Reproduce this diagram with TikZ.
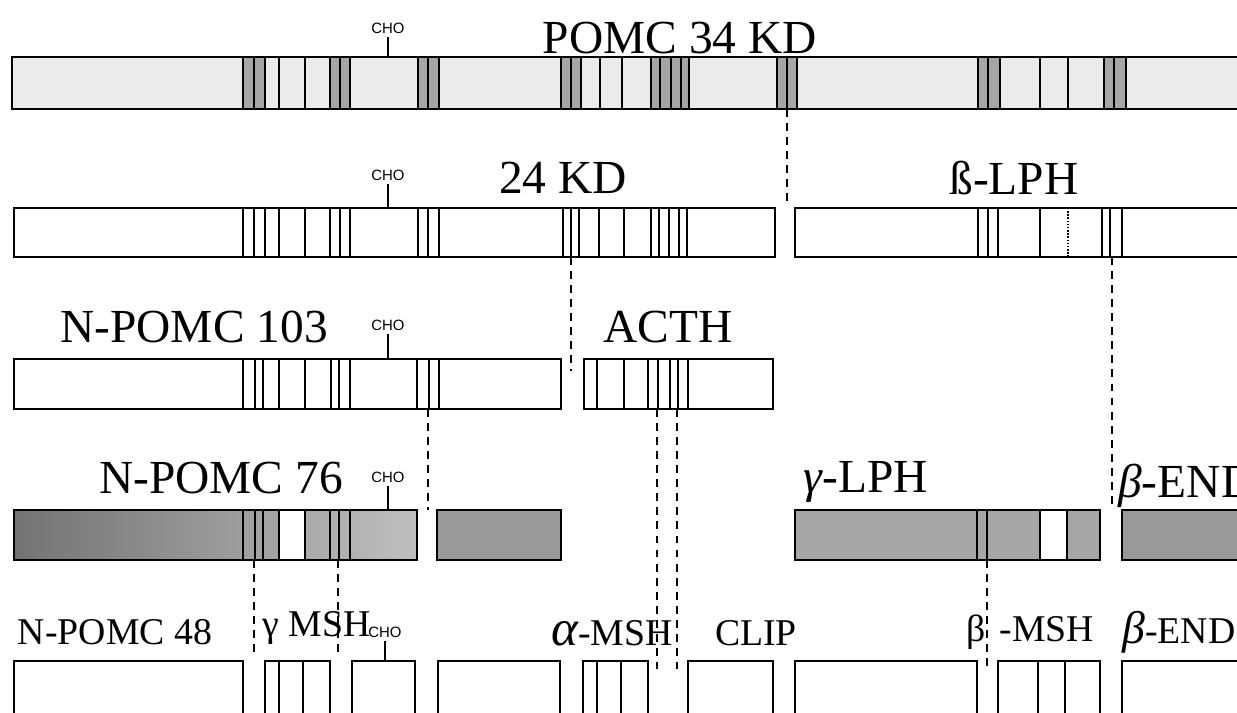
\documentclass[tikz,border=0pt]{standalone}
\usepackage{fontspec}
\setmainfont{Liberation Serif}
\newfontfamily\chofont{Liberation Sans}
\usetikzlibrary{fit,calc}
\tikzset{
    segment/.style={draw, line width=1.1pt, inner sep=0pt, outer sep=0pt},
    light/.style={segment, fill=black!8},
    plain/.style={segment, fill=white},
    dense/.style={segment, fill=black!40},
    band/.style={fill=black!35},
    site/.style={line width=0.8pt},
    cleave/.style={line width=0.8pt, dash pattern=on 4.5pt off 3.5pt},
    bigname/.style={font=\fontsize{27}{29}\selectfont, inner sep=0pt},
    smallname/.style={font=\fontsize{21.5}{24}\selectfont, inner sep=0pt},
    cho/.style={font=\chofont\fontsize{8.5}{9}\selectfont, inner sep=0pt},
    glycan/.style={line width=0.8pt, shorten <=2pt}
}
\newcommand{\sites}[2]{\foreach \x in {#2} {\draw[site] (\x,0 |- #1.north) -- (\x,0 |- #1.south);}}
\newcommand{\bands}[3]{\foreach \a/\b in {#2} {\fill[#3] ($(\a,0 |- #1.north)+(0,1)$) rectangle ($(\b,0 |- #1.south)-(0,1)$);}}

\begin{document}
\begin{tikzpicture}[x=0.02cm, y=-0.02cm]
    \useasboundingbox (0,0) rectangle (1237,713);
    \clip (0,0) rectangle (1237,713);

    % precursor
    \node[light, fit={(12,57) (1260,109)}] (pomc) {};
    \bands{pomc}{243/265, 330/350, 418/439, 561/581, 651/689, 777/797, 978/1000, 1104/1126}{band}
    \sites{pomc}{243,254,265,279,305,330,340,350,418,428,439,561,571,581,600,622,651,660,671,681,689,777,787,797,978,988,1000,1040,1068,1104,1114,1126}
    \node[bigname] (pomcname) at (680,38) {POMC 34 KD};
    \node[cho] (cho1) at (388,28) {CHO};
    \draw[glycan] (cho1.south) -- (cho1.south |- pomc.north);

    % first cleavage
    \node[plain, fit={(14,208) (775,257)}] (kd24) {};
    \sites{kd24}{243,254,265,279,305,330,340,350,418,428,439,563,571,579,599,624,651,659,669,679,687}
    \node[plain, fit={(795,208) (1260,257)}] (blph) {};
    \sites{blph}{978,988,998,1040,1102,1110,1122}
    \draw[site, densely dotted] (1068,0 |- blph.north) -- (1068,0 |- blph.south);
    \node[bigname] (kd24name) at (563,178) {24 KD};
    \node[bigname] (blphname) at (1014,178) {ß-LPH};
    \node[cho] (cho2) at (388,175) {CHO};
    \draw[glycan] (cho2.south) -- (cho2.south |- kd24.north);

    % second cleavage
    \node[plain, fit={(14,359) (561,409)}] (np103) {};
    \sites{np103}{243,255,263,279,305,331,339,350,417,429,439}
    \node[plain, fit={(584,359) (773,409)}] (acth) {};
    \sites{acth}{597,624,648,658,670,678,688}
    \node[bigname] (np103name) at (194,327) {N-POMC 103};
    \node[bigname] (acthname) at (668,327) {ACTH};
    \node[cho] (cho3) at (388,325) {CHO};
    \draw[glycan] (cho3.south) -- (cho3.south |- np103.north);

    % third cleavage
    \node[segment, left color=black!55, right color=black!25, fit={(14,510) (417,560)}] (np76) {};
    \bands{np76}{279/305}{white}
    \sites{np76}{243,255,263,279,305,330,339,350}
    \node[dense, fit={(437,510) (561,560)}] (jpep) {};
    \node[segment, fill=black!35, fit={(795,510) (1100,560)}] (glph) {};
    \bands{glph}{1040/1067}{white}
    \sites{glph}{977,987,1040,1067}
    \node[dense, fit={(1122,510) (1260,560)}] (bend) {};
    \node[bigname] (np76name) at (221,478) {N-POMC 76};
    \node[bigname] (glphname) at (866,482) {\itshape γ\upshape-LPH};
    \node[bigname, anchor=west] (bendname) at (1118,486) {\itshape β\upshape-END};
    \node[cho] (cho4) at (388,477) {CHO};
    \draw[glycan] (cho4.south) -- (cho4.south |- np76.north);

    % end products
    \node[plain, fit={(14,661) (243,730)}] (np48) {};
    \node[plain, fit={(265,661) (330,730)}] (gmsh) {};
    \sites{gmsh}{279,303}
    \node[plain, fit={(352,661) (415,730)}] (glyco) {};
    \node[plain, fit={(438,661) (560,730)}] (jpep2) {};
    \node[plain, fit={(583,661) (648,730)}] (amsh) {};
    \sites{amsh}{597,621}
    \node[plain, fit={(688,661) (773,730)}] (clip) {};
    \node[plain, fit={(795,661) (977,730)}] (lph2) {};
    \node[plain, fit={(998,661) (1100,730)}] (bmsh) {};
    \sites{bmsh}{1038,1065}
    \node[plain, fit={(1122,661) (1260,730)}] (bend2) {};
    \node[smallname] (np48name) at (115,632) {N-POMC 48};
    \node[smallname, anchor=west] (gmshname) at (262,628) {γ MSH};
    \node[smallname] (amshname) at (612,633) {{\fontsize{29}{30}\selectfont\itshape α}-MSH};
    \node[smallname] (clipname) at (756,633) {CLIP};
    \node[smallname, anchor=west] (bmshname) at (966,632) {β\hspace{0.28cm}-MSH};
    \node[smallname, anchor=west] (bend2name) at (1122,632) {{\fontsize{26}{28}\selectfont\itshape β}-END};
    \node[cho] (cho5) at (385,632) {CHO};
    \draw[glycan] (cho5.south) -- (cho5.south |- glyco.north);

    % cleavage sites
    \coordinate (cutA) at (787,0);
    \coordinate (cutB) at (571,0);
    \coordinate (cutC) at (1112,0);
    \coordinate (cutD) at (428,0);
    \coordinate (cutE) at (657,0);
    \coordinate (cutF) at (677,0);
    \coordinate (cutG) at (254,0);
    \coordinate (cutH) at (338,0);
    \coordinate (cutI) at (987,0);

    \draw[cleave] (cutA |- pomc.south) -- ($(cutA |- kd24.north)-(0,3)$);
    \draw[cleave] (cutB |- kd24.south) -- ($(cutB |- acth.north)+(0,12)$);
    \draw[cleave] (cutC |- blph.south) -- (cutC |- bend.north);
    \draw[cleave] (cutD |- np103.south) -- (cutD |- jpep.north);
    \draw[cleave] (cutE |- acth.south) -- ($(cutE |- amsh.north)+(0,8)$);
    \draw[cleave] (cutF |- acth.south) -- ($(cutF |- amsh.north)+(0,8)$);
    \draw[cleave] (cutG |- np76.south) -- ($(cutG |- np48.north)-(0,3)$);
    \draw[cleave] (cutH |- np76.south) -- ($(cutH |- gmsh.north)-(0,8)$);
    \draw[cleave] (cutI |- glph.south) -- ($(cutI |- bmsh.north)+(0,8)$);

\end{tikzpicture}
\end{document}
